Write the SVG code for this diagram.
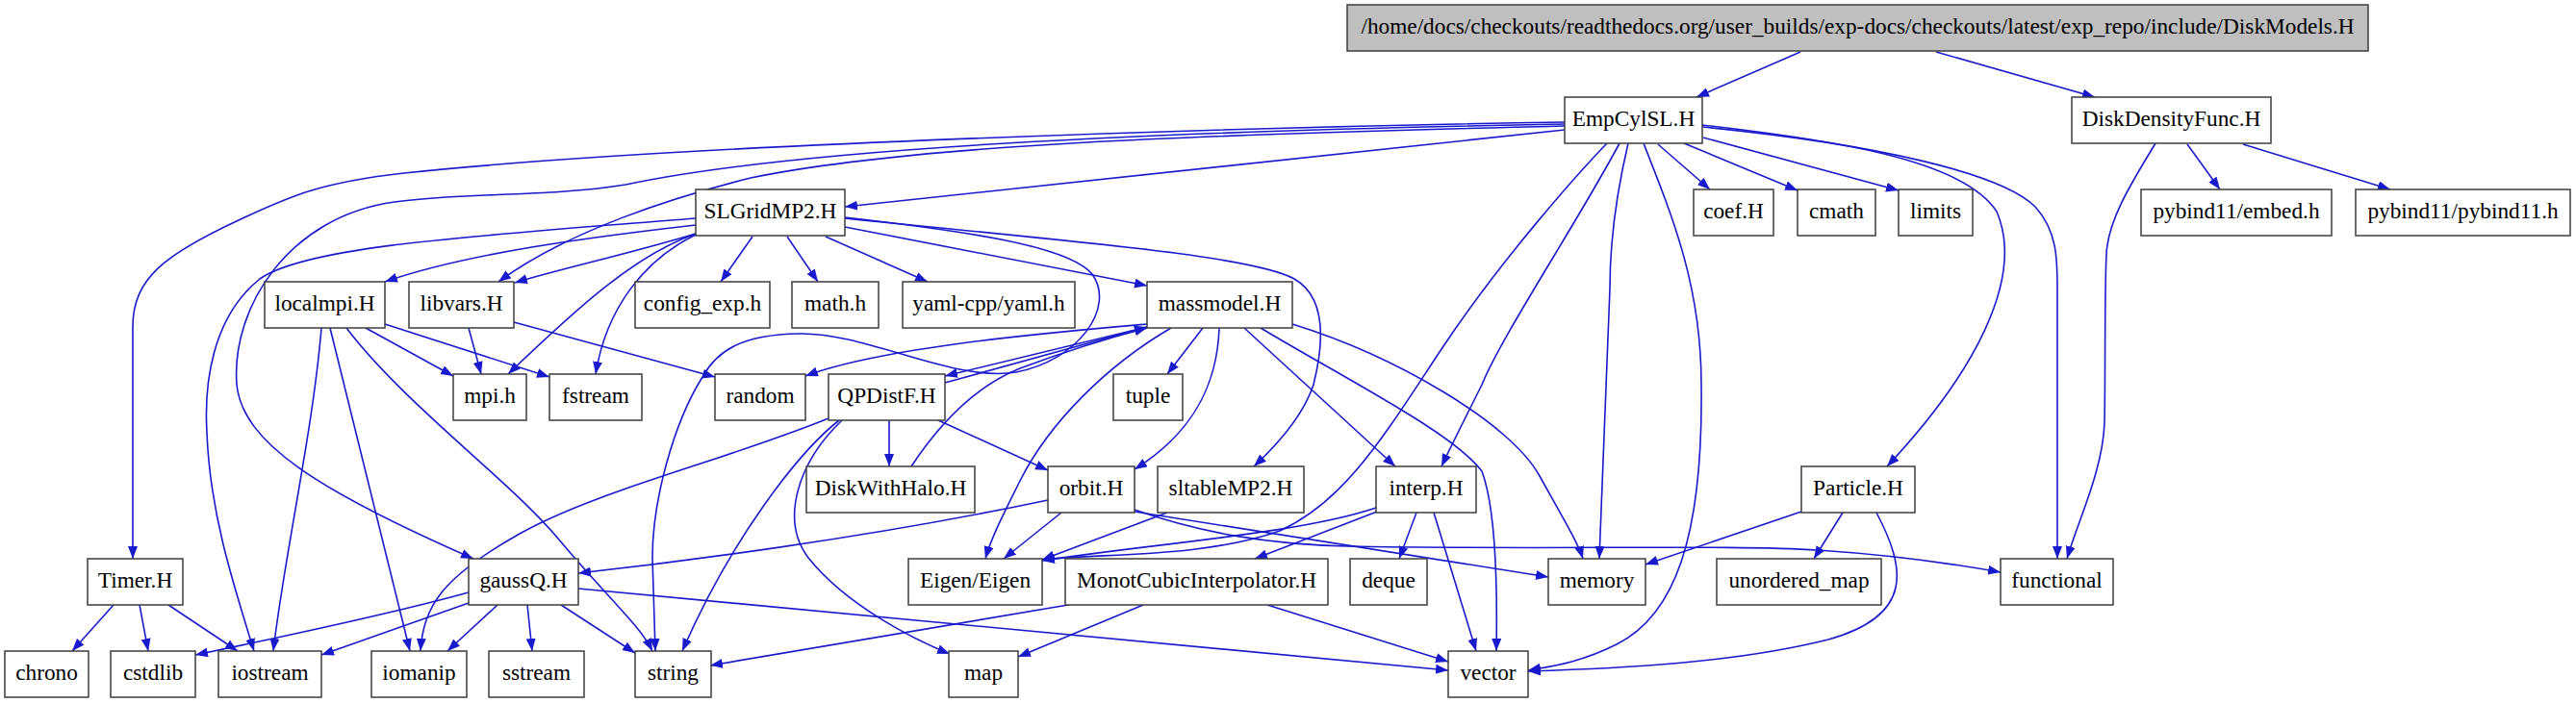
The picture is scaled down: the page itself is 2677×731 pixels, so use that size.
<svg xmlns="http://www.w3.org/2000/svg" width="2677" height="731" viewBox="0 0 2677 731">
<style>
.n rect{fill:#ffffff;stroke:#3c3c3c;stroke-width:1.5}
.n text{font-family:"Liberation Serif","Times New Roman",serif;font-size:23.3px;fill:#000;text-anchor:middle}
#n_root rect{fill:#bfbfbf}
#edges path{fill:none;stroke:#1a1acd;stroke-width:1.6;marker-end:url(#ah)}
</style>
<defs>
<marker id="ah" markerWidth="14" markerHeight="11" refX="13" refY="5" orient="auto" markerUnits="userSpaceOnUse"><path d="M0,0 L13,5 L0,10 Z" fill="#1a1acd"/></marker>
</defs>
<rect width="2677" height="731" fill="#ffffff"/>
<g id="edges">
<path d="M1871,54 L1763,101"/>
<path d="M2012,54 L2177,101"/>
<path d="M1723,150 L1777,197"/>
<path d="M1750,149 L1868,198"/>
<path d="M1770,143 L1973,198"/>
<path d="M1769,130 C1900,145 2040,165 2075,220 C2105,290 2050,390 1961,485"/>
<path d="M1769,132 C1950,150 2080,180 2115,215 C2138,240 2138,270 2138,300 L2138,581"/>
<path d="M2240,149 C2215,190 2190,230 2189,265 C2187,300 2188,400 2187,440 C2185,490 2160,540 2148,581"/>
<path d="M2273,150 L2307,197"/>
<path d="M2331,150 L2484,197"/>
<path d="M1626,135 L878,215"/>
<path d="M1626,131 C1250,140 950,150 780,185 C700,205 590,240 518,293"/>
<path d="M1626,127 C1300,132 700,150 420,180 C330,190 300,205 250,228 C170,265 138,290 138,340 L138,581"/>
<path d="M1626,129 C1100,138 800,160 650,192 C570,205 480,200 410,210 C300,225 240,320 246,400 C252,460 330,510 492,581"/>
<path d="M723,234 C600,248 480,265 400,293"/>
<path d="M723,243 C650,265 580,280 535,294"/>
<path d="M723,243 C660,265 600,320 528,389"/>
<path d="M723,244 C670,270 630,320 619,389"/>
<path d="M782,246 L749,293"/>
<path d="M818,246 L850,293"/>
<path d="M858,246 L964,293"/>
<path d="M878,236 L1192,297"/>
<path d="M723,227 C500,245 320,255 270,290 C220,330 212,400 215,450 C218,530 240,600 264,677"/>
<path d="M878,226 C1000,240 1110,255 1135,285 C1160,320 1120,375 1056,387 C990,398 900,345 830,347 C770,348 745,365 730,392 C700,440 678,520 678,580 L681,677"/>
<path d="M878,227 C1100,250 1300,265 1345,290 C1380,310 1375,360 1365,400 C1355,430 1330,460 1303,485"/>
<path d="M380,341 L471,391"/>
<path d="M400,337 L571,392"/>
<path d="M334,341 C325,450 295,580 284,677"/>
<path d="M343,341 L426,677"/>
<path d="M360,341 C420,420 530,500 580,560 C630,620 665,650 678,677"/>
<path d="M487,341 L500,389"/>
<path d="M534,335 L743,392"/>
<path d="M1192,337 C1100,345 920,360 837,391"/>
<path d="M1192,340 L982,391"/>
<path d="M982,398 L1192,340"/>
<path d="M947,485 C990,420 1030,395 1060,383 C1100,368 1150,352 1192,341"/>
<path d="M924,437 L924,485"/>
<path d="M975,437 L1089,489"/>
<path d="M861,435 C750,480 620,510 540,555 C460,600 440,630 437,677"/>
<path d="M872,437 C830,470 760,560 709,677"/>
<path d="M875,437 C830,480 810,540 840,580 C880,630 950,665 987,680"/>
<path d="M1217,341 C1150,380 1090,440 1060,500 C1040,540 1030,560 1024,581"/>
<path d="M1250,341 L1213,389"/>
<path d="M1267,341 C1265,400 1240,450 1179,488"/>
<path d="M1293,341 L1450,485"/>
<path d="M1310,341 C1400,395 1510,450 1540,490 C1555,530 1556,620 1555,677"/>
<path d="M1343,337 C1450,370 1570,440 1600,495 C1625,540 1640,565 1645,581"/>
<path d="M1670,149 C1640,180 1560,270 1500,360 C1440,450 1400,520 1330,552 C1250,580 1150,575 1083,582"/>
<path d="M1683,149 C1640,230 1560,350 1540,400 C1520,440 1505,470 1498,485"/>
<path d="M1692,149 C1680,200 1673,250 1673,300 L1662,581"/>
<path d="M1708,149 C1740,230 1768,300 1768,400 C1770,560 1740,640 1680,670 C1640,690 1610,693 1588,697"/>
<path d="M1213,533 L1083,582"/>
<path d="M1103,533 L1043,581"/>
<path d="M1089,520 C900,560 700,585 601,596"/>
<path d="M1179,530 C1250,555 1320,566 1400,568 C1600,572 1800,566 1889,572 C1980,578 2040,588 2079,595"/>
<path d="M1179,532 L1609,600"/>
<path d="M1430,528 C1350,555 1200,565 1083,583"/>
<path d="M1431,532 L1304,581"/>
<path d="M1472,533 L1454,581"/>
<path d="M1490,533 L1534,677"/>
<path d="M1110,629 L738,692"/>
<path d="M1188,629 L1058,683"/>
<path d="M1317,629 L1505,688"/>
<path d="M487,616 C400,640 280,665 203,681"/>
<path d="M487,627 L334,681"/>
<path d="M517,629 L465,677"/>
<path d="M548,629 L553,677"/>
<path d="M583,629 L660,679"/>
<path d="M601,612 L1505,697"/>
<path d="M118,629 L75,677"/>
<path d="M145,629 L154,677"/>
<path d="M175,629 L247,677"/>
<path d="M1872,532 L1710,587"/>
<path d="M1915,533 L1885,581"/>
<path d="M1950,533 C1980,590 1990,640 1900,665 C1800,690 1680,695 1588,698"/>
</g>
<g id="n_root" class="n"><rect x="1400" y="5" width="1061" height="48"/><text x="1930.5" y="35">/home/docs/checkouts/readthedocs.org/user_builds/exp-docs/checkouts/latest/exp_repo/include/DiskModels.H</text></g>
<g id="n_empcylsl" class="n"><rect x="1626" y="101" width="143" height="48"/><text x="1697.5" y="131">EmpCylSL.H</text></g>
<g id="n_diskdensityfunc" class="n"><rect x="2153" y="101" width="207" height="48"/><text x="2256.5" y="131">DiskDensityFunc.H</text></g>
<g id="n_slgridmp2" class="n"><rect x="723" y="197" width="155" height="48"/><text x="800.5" y="227">SLGridMP2.H</text></g>
<g id="n_coef" class="n"><rect x="1760" y="197" width="83" height="48"/><text x="1801.5" y="227">coef.H</text></g>
<g id="n_cmath" class="n"><rect x="1868" y="197" width="81" height="48"/><text x="1908.5" y="227">cmath</text></g>
<g id="n_limits" class="n"><rect x="1973" y="197" width="77" height="48"/><text x="2011.5" y="227">limits</text></g>
<g id="n_embed" class="n"><rect x="2225" y="197" width="198" height="48"/><text x="2324" y="227">pybind11/embed.h</text></g>
<g id="n_pybind11" class="n"><rect x="2448" y="197" width="223" height="48"/><text x="2559.5" y="227">pybind11/pybind11.h</text></g>
<g id="n_localmpi" class="n"><rect x="275" y="293" width="125" height="48"/><text x="337.5" y="323">localmpi.H</text></g>
<g id="n_libvars" class="n"><rect x="425" y="293" width="109" height="48"/><text x="479.5" y="323">libvars.H</text></g>
<g id="n_config" class="n"><rect x="660" y="293" width="140" height="48"/><text x="730" y="323">config_exp.h</text></g>
<g id="n_math" class="n"><rect x="823" y="293" width="90" height="48"/><text x="868" y="323">math.h</text></g>
<g id="n_yaml" class="n"><rect x="938" y="293" width="179" height="48"/><text x="1027.5" y="323">yaml-cpp/yaml.h</text></g>
<g id="n_massmodel" class="n"><rect x="1192" y="293" width="151" height="48"/><text x="1267.5" y="323">massmodel.H</text></g>
<g id="n_mpi" class="n"><rect x="471" y="389" width="76" height="48"/><text x="509" y="419">mpi.h</text></g>
<g id="n_fstream" class="n"><rect x="571" y="389" width="96" height="48"/><text x="619" y="419">fstream</text></g>
<g id="n_random" class="n"><rect x="743" y="389" width="94" height="48"/><text x="790" y="419">random</text></g>
<g id="n_qpdistf" class="n"><rect x="861" y="389" width="121" height="48"/><text x="921.5" y="419">QPDistF.H</text></g>
<g id="n_tuple" class="n"><rect x="1157" y="389" width="72" height="48"/><text x="1193" y="419">tuple</text></g>
<g id="n_diskwithhalo" class="n"><rect x="838" y="485" width="175" height="48"/><text x="925.5" y="515">DiskWithHalo.H</text></g>
<g id="n_orbit" class="n"><rect x="1089" y="485" width="90" height="48"/><text x="1134" y="515">orbit.H</text></g>
<g id="n_sltablemp2" class="n"><rect x="1203" y="485" width="152" height="48"/><text x="1279" y="515">sltableMP2.H</text></g>
<g id="n_interp" class="n"><rect x="1430" y="485" width="104" height="48"/><text x="1482" y="515">interp.H</text></g>
<g id="n_particle" class="n"><rect x="1872" y="485" width="118" height="48"/><text x="1931" y="515">Particle.H</text></g>
<g id="n_timer" class="n"><rect x="91" y="581" width="99" height="48"/><text x="140.5" y="611">Timer.H</text></g>
<g id="n_gaussq" class="n"><rect x="487" y="581" width="114" height="48"/><text x="544" y="611">gaussQ.H</text></g>
<g id="n_eigen" class="n"><rect x="944" y="581" width="139" height="48"/><text x="1013.5" y="611">Eigen/Eigen</text></g>
<g id="n_monot" class="n"><rect x="1107" y="581" width="273" height="48"/><text x="1243.5" y="611">MonotCubicInterpolator.H</text></g>
<g id="n_deque" class="n"><rect x="1403" y="581" width="80" height="48"/><text x="1443" y="611">deque</text></g>
<g id="n_memory" class="n"><rect x="1609" y="581" width="101" height="48"/><text x="1659.5" y="611">memory</text></g>
<g id="n_unordered" class="n"><rect x="1784" y="581" width="171" height="48"/><text x="1869.5" y="611">unordered_map</text></g>
<g id="n_functional" class="n"><rect x="2079" y="581" width="117" height="48"/><text x="2137.5" y="611">functional</text></g>
<g id="n_chrono" class="n"><rect x="5" y="677" width="87" height="48"/><text x="48.5" y="707">chrono</text></g>
<g id="n_cstdlib" class="n"><rect x="115" y="677" width="88" height="48"/><text x="159" y="707">cstdlib</text></g>
<g id="n_iostream" class="n"><rect x="227" y="677" width="107" height="48"/><text x="280.5" y="707">iostream</text></g>
<g id="n_iomanip" class="n"><rect x="386" y="677" width="99" height="48"/><text x="435.5" y="707">iomanip</text></g>
<g id="n_sstream" class="n"><rect x="508" y="677" width="99" height="48"/><text x="557.5" y="707">sstream</text></g>
<g id="n_string" class="n"><rect x="660" y="677" width="79" height="48"/><text x="699.5" y="707">string</text></g>
<g id="n_map" class="n"><rect x="986" y="677" width="72" height="48"/><text x="1022" y="707">map</text></g>
<g id="n_vector" class="n"><rect x="1505" y="677" width="83" height="48"/><text x="1546.5" y="707">vector</text></g>
</svg>
